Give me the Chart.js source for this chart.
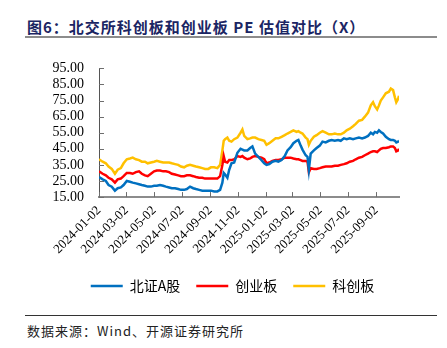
<!DOCTYPE html>
<html>
<head>
<meta charset="utf-8">
<script src="https://cdn.jsdelivr.net/npm/chart.js@4"></script>
<style>
  body { margin: 0; width: 447px; height: 348px; background: #fff; position: relative; overflow: hidden; }
  .title { position: absolute; left: 27px; top: 16px; font: bold 15px "Noto Sans CJK SC", sans-serif; color: #1b2563; letter-spacing: 1px; white-space: nowrap; }
  .rule { position: absolute; left: 25px; width: 412px; }
  .source { position: absolute; left: 27px; top: 321px; font: 13px "Noto Sans CJK SC", sans-serif; color: #222; letter-spacing: 1px; white-space: nowrap; }
  #wrap { position: absolute; left: 0; top: 45px; width: 447px; height: 258px; }
</style>
</head>
<body>
<div class="title">图6：北交所科创板和创业板 PE 估值对比（X）</div>
<div class="rule" style="top:36px;border-top:2px solid #8c8c8c;"></div>
<div id="wrap"><canvas id="peChart"></canvas></div>
<div class="rule" style="top:315px;border-top:1px solid #333;"></div>
<div class="source">数据来源：Wind、开源证券研究所</div>
<script>
const dates = [
  '2024-01-02','2024-01-10','2024-01-17','2024-01-23','2024-01-30','2024-02-06','2024-02-12','2024-02-19','2024-02-25',
  '2024-03-03','2024-03-10','2024-03-16','2024-03-23','2024-03-30','2024-04-05','2024-04-12','2024-04-18','2024-04-25',
  '2024-05-02','2024-05-08','2024-05-15','2024-05-22','2024-05-28','2024-06-04','2024-06-10','2024-06-17','2024-06-24',
  '2024-06-30','2024-07-07','2024-07-13','2024-07-20','2024-07-27','2024-08-02','2024-08-09','2024-08-16','2024-08-22',
  '2024-08-29','2024-09-04','2024-09-11','2024-09-18','2024-09-24','2024-09-29','2024-10-02','2024-10-05','2024-10-10',
  '2024-10-14','2024-10-19','2024-10-25','2024-11-01','2024-11-08','2024-11-12','2024-11-16','2024-11-23','2024-11-29',
  '2024-12-04','2024-12-10','2024-12-17','2024-12-24','2024-12-30','2025-01-04','2025-01-10','2025-01-17','2025-01-24',
  '2025-01-30','2025-02-06','2025-02-13','2025-02-19','2025-02-26','2025-03-04','2025-03-11','2025-03-15','2025-03-20',
  '2025-03-24','2025-03-31','2025-04-04','2025-04-07','2025-04-11','2025-04-18','2025-04-24','2025-05-01','2025-05-07',
  '2025-05-14','2025-05-21','2025-05-27','2025-06-03','2025-06-10','2025-06-16','2025-06-23','2025-06-29','2025-07-06',
  '2025-07-13','2025-07-19','2025-07-26','2025-08-02','2025-08-08','2025-08-15','2025-08-21','2025-08-26','2025-08-30',
  '2025-09-04','2025-09-08','2025-09-12','2025-09-17','2025-09-23','2025-09-30','2025-10-04','2025-10-09','2025-10-13',
  '2025-10-16','2025-10-20','2025-10-22'
];

// 北证A股
const bzA = [
  27.5,26,25,22.5,21.5,19,20.5,21,22.5,
  25,24.5,24,23.5,23,22.5,22,21.5,21.5,
  22,22,22.5,22,21.5,21,20.5,20.5,20,
  19.5,19.5,20,21.5,20.5,20,19.5,19,19,
  19,19,18.5,18.5,19.5,24,30,29,27,
  32,36,36.5,42.5,45,44.5,44,44,45.5,
  46.5,42,40,38,36,35,35.5,37,37.5,
  37,38,40.5,44,46,48.5,50,50.5,47,
  44.5,41,40,32,42,44,45.5,47,49.5,
  49,50,50.5,50,50.5,50,51.5,51,51.5,
  51,51.5,52,51.5,52,53,55,54,55.5,
  55,56.5,55.5,54.5,52.5,51,50.5,50.5,50,
  49,49.5,50
];

// 创业板
const cyb = [
  31,29.5,28.5,27,26,24,26,26.5,28,
  30,30,29.5,30.5,31,29.5,28.5,28,29.5,
  31,31.5,31.5,31,31,30.5,29.5,29,28.5,
  28,28,28.5,28.5,28,27.5,27,27,26.5,
  26.5,26.5,26.5,26.5,28,35,40.5,37,36.5,
  38,38,38.5,40.5,40,40.5,39.5,38.5,39,
  40,40.5,40,39.5,38.5,36,36.5,37.5,38,
  38,38.5,39.5,39.5,39.5,39,38.5,38.5,38,
  37.5,37.5,37,30.5,33,32.5,32.5,33,33.5,
  34,34,34,34.5,34.5,35,35.5,36,37,
  37.5,38.5,39.5,40,41,42,43,43.5,43.5,
  43,44,45,45.5,45.5,46,46.5,46.5,45.5,
  43.5,44,45
];

// 科创板
const kcb = [
  38.5,37,36,34,32.5,29.5,32,33,36,
  38.5,39,39.5,38.5,38,37,37,36,36.5,
  37,37.5,37,36.5,36.5,36.5,36,35.5,35,
  34,33.5,34.5,35,34.5,34,33.5,33,32.5,
  32.5,33.5,33.5,33,35,44,50,51,52,
  50,49.5,51,52,55,57,53,51,51.5,
  52,52,51,50.5,50,47.5,48.5,50,51.5,
  51.5,52.5,53.5,54.5,55.5,56.5,55.5,56,55,
  54.5,52,51,47.5,50,52.5,53.5,55,56,
  55,54,54,54.5,54,54,55,56.5,57.5,
  59,60.5,62.5,63,65,67.5,72,74,71.5,
  69.5,72,75,77,79.5,80.5,82.5,81.5,77,
  74,76,78
];

const tickLabels = ['2024-01-02','2024-03-02','2024-05-02','2024-07-02','2024-09-02','2024-11-02',
  '2025-01-02','2025-03-02','2025-05-02','2025-07-02','2025-09-02'];
const yTicks = [15,25,35,45,55,65,75,85,95];

const DAY = 86400000;
const toDay = s => (Date.parse(s) - Date.parse(dates[0])) / DAY;
const pts = vals => vals.map((v, i) => ({x: toDay(dates[i]), y: v}));
const serif = "'Times New Roman', 'Liberation Serif', serif";

const innerTicks = {
  id: 'innerTicks',
  afterLayout(chart) {
    // legend sits a little right of the canvas centre
    chart.legend.left += 33;
    chart.legend.right += 33;
  },
  beforeDatasetsDraw(chart) {
    const {ctx, chartArea, scales} = chart;
    ctx.save();
    ctx.strokeStyle = '#6e6e6e';
    ctx.lineWidth = 1;
    ctx.beginPath();
    scales.y.ticks.forEach(t => {
      const py = Math.round(scales.y.getPixelForValue(t.value)) + 0.5;
      ctx.moveTo(chartArea.left, py);
      ctx.lineTo(chartArea.left + 5, py);
    });
    scales.x.ticks.forEach(t => {
      const px = Math.round(scales.x.getPixelForValue(t.value)) + 0.5;
      ctx.moveTo(px, chartArea.bottom);
      ctx.lineTo(px, chartArea.bottom - 5);
    });
    ctx.stroke();
    ctx.restore();
  }
};

const line = (label, data, color) => ({
  label: label,
  data: pts(data),
  borderColor: color,
  backgroundColor: color,
  borderWidth: 2.5,
  pointRadius: 0,
  tension: 0
});

new Chart(document.getElementById('peChart'), {
  type: 'line',
  data: {
    datasets: [
      line('北证A股', bzA, '#0070c0'),
      line('创业板', cyb, '#ff0000'),
      line('科创板', kcb, '#ffc000')
    ]
  },
  options: {
    responsive: true,
    maintainAspectRatio: false,
    animation: false,
    layout: { padding: { top: 20, right: 48, left: 0, bottom: 0 } },
    plugins: {
      tooltip: { enabled: false },
      legend: {
        position: 'bottom',
        labels: {
          usePointStyle: true,
          pointStyle: 'line',
          pointStyleWidth: 32,
          padding: 16,
          color: '#000',
          font: { family: "'Noto Sans CJK SC', sans-serif", size: 14 }
        }
      }
    },
    scales: {
      x: {
        type: 'linear',
        min: 0,
        max: toDay(dates[dates.length - 1]),
        afterBuildTicks: scale => { scale.ticks = tickLabels.map(t => ({value: toDay(t)})); },
        grid: { drawOnChartArea: false, drawTicks: false },
        border: { color: '#8c8c8c', width: 2 },
        ticks: {
          autoSkip: false,
          maxRotation: 45,
          minRotation: 45,
          padding: 6,
          color: '#000',
          font: { family: serif, size: 13 },
          callback: v => tickLabels.find(t => toDay(t) === v) || ''
        }
      },
      y: {
        min: 15,
        max: 95,
        afterBuildTicks: scale => { scale.ticks = yTicks.map(v => ({value: v})); },
        afterFit: scale => { scale.width = 99; },
        grid: { drawOnChartArea: false, drawTicks: false },
        border: { color: '#555', width: 1 },
        ticks: {
          autoSkip: false,
          padding: 15,
          color: '#000',
          font: { family: serif, size: 14 },
          callback: v => v.toFixed(2)
        }
      }
    }
  },
  plugins: [innerTicks]
});
</script>
</body>
</html>
